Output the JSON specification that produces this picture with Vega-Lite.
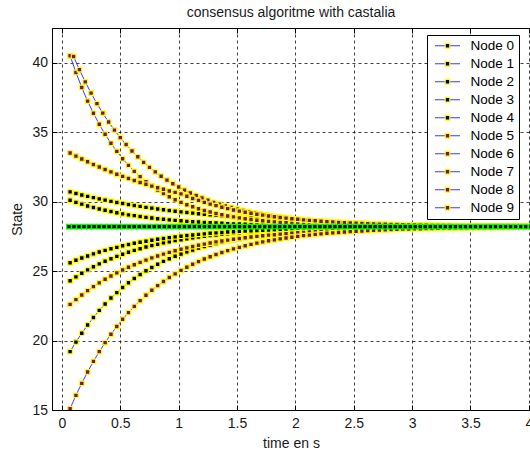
{
"$schema":"https://vega.github.io/schema/vega-lite/v6.json",
"width":478,"height":382,"autosize":"none",
"padding":{"left":52,"top":28,"right":0,"bottom":43},
"background":"white",
"title":{"text":"consensus algoritme with castalia","frame":"group","anchor":"middle","offset":8,"fontSize":14,"font":"Liberation Sans","fontWeight":"normal","color":"#1a1a1a"},
"config":{"view":{"stroke":"#000","strokeWidth":1},
"axis":{"labelFont":"Liberation Sans","labelFontSize":14,"labelColor":"#1a1a1a","titleFont":"Liberation Sans","titleFontSize":14,"titleFontWeight":"normal","titleColor":"#1a1a1a","domainColor":"#000","tickColor":"#000","tickSize":-5,"gridColor":"#000","gridDash":[3,3],"gridOpacity":0.75,"gridWidth":1}},
"datasets":{
"nodes":[
{"n":"Node 0","t":0.07,"y":30.70},{"n":"Node 0","t":0.12,"y":30.59},{"n":"Node 0","t":0.17,"y":30.48},{"n":"Node 0","t":0.22,"y":30.38},{"n":"Node 0","t":0.27,"y":30.29},{"n":"Node 0","t":0.32,"y":30.20},{"n":"Node 0","t":0.37,"y":30.11},{"n":"Node 0","t":0.42,"y":30.02},{"n":"Node 0","t":0.47,"y":29.94},{"n":"Node 0","t":0.52,"y":29.87},
{"n":"Node 0","t":0.57,"y":29.79},{"n":"Node 0","t":0.62,"y":29.72},{"n":"Node 0","t":0.67,"y":29.66},{"n":"Node 0","t":0.72,"y":29.59},{"n":"Node 0","t":0.77,"y":29.53},{"n":"Node 0","t":0.82,"y":29.47},{"n":"Node 0","t":0.87,"y":29.42},{"n":"Node 0","t":0.92,"y":29.36},{"n":"Node 0","t":0.97,"y":29.31},{"n":"Node 0","t":1.02,"y":29.26},
{"n":"Node 0","t":1.07,"y":29.22},{"n":"Node 0","t":1.12,"y":29.17},{"n":"Node 0","t":1.17,"y":29.13},{"n":"Node 0","t":1.22,"y":29.09},{"n":"Node 0","t":1.27,"y":29.05},{"n":"Node 0","t":1.32,"y":29.01},{"n":"Node 0","t":1.37,"y":28.98},{"n":"Node 0","t":1.42,"y":28.94},{"n":"Node 0","t":1.47,"y":28.91},{"n":"Node 0","t":1.52,"y":28.88},
{"n":"Node 0","t":1.57,"y":28.85},{"n":"Node 0","t":1.62,"y":28.82},{"n":"Node 0","t":1.67,"y":28.79},{"n":"Node 0","t":1.72,"y":28.77},{"n":"Node 0","t":1.77,"y":28.74},{"n":"Node 0","t":1.82,"y":28.72},{"n":"Node 0","t":1.87,"y":28.69},{"n":"Node 0","t":1.92,"y":28.67},{"n":"Node 0","t":1.97,"y":28.65},{"n":"Node 0","t":2.02,"y":28.62},
{"n":"Node 0","t":2.07,"y":28.59},{"n":"Node 0","t":2.12,"y":28.56},{"n":"Node 0","t":2.17,"y":28.53},{"n":"Node 0","t":2.22,"y":28.51},{"n":"Node 0","t":2.27,"y":28.49},{"n":"Node 0","t":2.32,"y":28.47},{"n":"Node 0","t":2.37,"y":28.45},{"n":"Node 0","t":2.42,"y":28.43},{"n":"Node 0","t":2.47,"y":28.41},{"n":"Node 0","t":2.52,"y":28.40},
{"n":"Node 0","t":2.57,"y":28.38},{"n":"Node 0","t":2.62,"y":28.37},{"n":"Node 0","t":2.67,"y":28.36},{"n":"Node 0","t":2.72,"y":28.35},{"n":"Node 0","t":2.77,"y":28.34},{"n":"Node 0","t":2.82,"y":28.33},{"n":"Node 0","t":2.87,"y":28.32},{"n":"Node 0","t":2.92,"y":28.31},{"n":"Node 0","t":2.97,"y":28.30},{"n":"Node 0","t":3.02,"y":28.29},
{"n":"Node 0","t":3.07,"y":28.29},{"n":"Node 0","t":3.12,"y":28.28},{"n":"Node 0","t":3.17,"y":28.28},{"n":"Node 0","t":3.22,"y":28.27},{"n":"Node 0","t":3.27,"y":28.26},{"n":"Node 0","t":3.32,"y":28.26},{"n":"Node 0","t":3.37,"y":28.26},{"n":"Node 0","t":3.42,"y":28.25},{"n":"Node 0","t":3.47,"y":28.25},{"n":"Node 0","t":3.52,"y":28.24},
{"n":"Node 0","t":3.57,"y":28.24},{"n":"Node 0","t":3.62,"y":28.24},{"n":"Node 0","t":3.67,"y":28.24},{"n":"Node 0","t":3.72,"y":28.23},{"n":"Node 0","t":3.77,"y":28.23},{"n":"Node 0","t":3.82,"y":28.23},{"n":"Node 0","t":3.87,"y":28.23},{"n":"Node 0","t":3.92,"y":28.22},{"n":"Node 0","t":3.97,"y":28.22},
{"n":"Node 1","t":0.07,"y":30.10},{"n":"Node 1","t":0.12,"y":29.95},{"n":"Node 1","t":0.17,"y":29.82},{"n":"Node 1","t":0.22,"y":29.69},{"n":"Node 1","t":0.27,"y":29.58},{"n":"Node 1","t":0.32,"y":29.47},{"n":"Node 1","t":0.37,"y":29.38},{"n":"Node 1","t":0.42,"y":29.29},{"n":"Node 1","t":0.47,"y":29.20},{"n":"Node 1","t":0.52,"y":29.12},
{"n":"Node 1","t":0.57,"y":29.05},{"n":"Node 1","t":0.62,"y":28.99},{"n":"Node 1","t":0.67,"y":28.93},{"n":"Node 1","t":0.72,"y":28.87},{"n":"Node 1","t":0.77,"y":28.82},{"n":"Node 1","t":0.82,"y":28.77},{"n":"Node 1","t":0.87,"y":28.73},{"n":"Node 1","t":0.92,"y":28.69},{"n":"Node 1","t":0.97,"y":28.65},{"n":"Node 1","t":1.02,"y":28.62},
{"n":"Node 1","t":1.07,"y":28.58},{"n":"Node 1","t":1.12,"y":28.55},{"n":"Node 1","t":1.17,"y":28.53},{"n":"Node 1","t":1.22,"y":28.50},{"n":"Node 1","t":1.27,"y":28.48},{"n":"Node 1","t":1.32,"y":28.46},{"n":"Node 1","t":1.37,"y":28.44},{"n":"Node 1","t":1.42,"y":28.42},{"n":"Node 1","t":1.47,"y":28.40},{"n":"Node 1","t":1.52,"y":28.39},
{"n":"Node 1","t":1.57,"y":28.37},{"n":"Node 1","t":1.62,"y":28.36},{"n":"Node 1","t":1.67,"y":28.35},{"n":"Node 1","t":1.72,"y":28.34},{"n":"Node 1","t":1.77,"y":28.33},{"n":"Node 1","t":1.82,"y":28.32},{"n":"Node 1","t":1.87,"y":28.31},{"n":"Node 1","t":1.92,"y":28.30},{"n":"Node 1","t":1.97,"y":28.29},{"n":"Node 1","t":2.02,"y":28.28},
{"n":"Node 1","t":2.07,"y":28.28},{"n":"Node 1","t":2.12,"y":28.27},{"n":"Node 1","t":2.17,"y":28.27},{"n":"Node 1","t":2.22,"y":28.26},{"n":"Node 1","t":2.27,"y":28.26},{"n":"Node 1","t":2.32,"y":28.25},{"n":"Node 1","t":2.37,"y":28.25},{"n":"Node 1","t":2.42,"y":28.24},{"n":"Node 1","t":2.47,"y":28.24},{"n":"Node 1","t":2.52,"y":28.24},
{"n":"Node 1","t":2.57,"y":28.23},{"n":"Node 1","t":2.62,"y":28.23},{"n":"Node 1","t":2.67,"y":28.23},{"n":"Node 1","t":2.72,"y":28.23},{"n":"Node 1","t":2.77,"y":28.22},{"n":"Node 1","t":2.82,"y":28.22},{"n":"Node 1","t":2.87,"y":28.22},{"n":"Node 1","t":2.92,"y":28.22},{"n":"Node 1","t":2.97,"y":28.22},{"n":"Node 1","t":3.02,"y":28.22},
{"n":"Node 1","t":3.07,"y":28.22},{"n":"Node 1","t":3.12,"y":28.22},{"n":"Node 1","t":3.17,"y":28.22},{"n":"Node 1","t":3.22,"y":28.21},{"n":"Node 1","t":3.27,"y":28.21},{"n":"Node 1","t":3.32,"y":28.21},{"n":"Node 1","t":3.37,"y":28.21},{"n":"Node 1","t":3.42,"y":28.21},{"n":"Node 1","t":3.47,"y":28.21},{"n":"Node 1","t":3.52,"y":28.21},
{"n":"Node 1","t":3.57,"y":28.21},{"n":"Node 1","t":3.62,"y":28.21},{"n":"Node 1","t":3.67,"y":28.21},{"n":"Node 1","t":3.72,"y":28.21},{"n":"Node 1","t":3.77,"y":28.21},{"n":"Node 1","t":3.82,"y":28.21},{"n":"Node 1","t":3.87,"y":28.21},{"n":"Node 1","t":3.92,"y":28.21},{"n":"Node 1","t":3.97,"y":28.21},
{"n":"Node 2","t":0.07,"y":24.30},{"n":"Node 2","t":0.12,"y":24.58},{"n":"Node 2","t":0.17,"y":24.84},{"n":"Node 2","t":0.22,"y":25.09},{"n":"Node 2","t":0.27,"y":25.31},{"n":"Node 2","t":0.32,"y":25.52},{"n":"Node 2","t":0.37,"y":25.71},{"n":"Node 2","t":0.42,"y":25.89},{"n":"Node 2","t":0.47,"y":26.06},{"n":"Node 2","t":0.52,"y":26.21},
{"n":"Node 2","t":0.57,"y":26.36},{"n":"Node 2","t":0.62,"y":26.49},{"n":"Node 2","t":0.67,"y":26.61},{"n":"Node 2","t":0.72,"y":26.73},{"n":"Node 2","t":0.77,"y":26.84},{"n":"Node 2","t":0.82,"y":26.93},{"n":"Node 2","t":0.87,"y":27.03},{"n":"Node 2","t":0.92,"y":27.11},{"n":"Node 2","t":0.97,"y":27.19},{"n":"Node 2","t":1.02,"y":27.26},
{"n":"Node 2","t":1.07,"y":27.33},{"n":"Node 2","t":1.12,"y":27.39},{"n":"Node 2","t":1.17,"y":27.45},{"n":"Node 2","t":1.22,"y":27.51},{"n":"Node 2","t":1.27,"y":27.56},{"n":"Node 2","t":1.32,"y":27.60},{"n":"Node 2","t":1.37,"y":27.65},{"n":"Node 2","t":1.42,"y":27.69},{"n":"Node 2","t":1.47,"y":27.72},{"n":"Node 2","t":1.52,"y":27.76},
{"n":"Node 2","t":1.57,"y":27.79},{"n":"Node 2","t":1.62,"y":27.82},{"n":"Node 2","t":1.67,"y":27.85},{"n":"Node 2","t":1.72,"y":27.87},{"n":"Node 2","t":1.77,"y":27.90},{"n":"Node 2","t":1.82,"y":27.92},{"n":"Node 2","t":1.87,"y":27.94},{"n":"Node 2","t":1.92,"y":27.96},{"n":"Node 2","t":1.97,"y":27.97},{"n":"Node 2","t":2.02,"y":27.99},
{"n":"Node 2","t":2.07,"y":28.01},{"n":"Node 2","t":2.12,"y":28.02},{"n":"Node 2","t":2.17,"y":28.03},{"n":"Node 2","t":2.22,"y":28.04},{"n":"Node 2","t":2.27,"y":28.06},{"n":"Node 2","t":2.32,"y":28.07},{"n":"Node 2","t":2.37,"y":28.08},{"n":"Node 2","t":2.42,"y":28.09},{"n":"Node 2","t":2.47,"y":28.09},{"n":"Node 2","t":2.52,"y":28.10},
{"n":"Node 2","t":2.57,"y":28.11},{"n":"Node 2","t":2.62,"y":28.11},{"n":"Node 2","t":2.67,"y":28.12},{"n":"Node 2","t":2.72,"y":28.13},{"n":"Node 2","t":2.77,"y":28.13},{"n":"Node 2","t":2.82,"y":28.14},{"n":"Node 2","t":2.87,"y":28.14},{"n":"Node 2","t":2.92,"y":28.15},{"n":"Node 2","t":2.97,"y":28.15},{"n":"Node 2","t":3.02,"y":28.15},
{"n":"Node 2","t":3.07,"y":28.16},{"n":"Node 2","t":3.12,"y":28.16},{"n":"Node 2","t":3.17,"y":28.16},{"n":"Node 2","t":3.22,"y":28.17},{"n":"Node 2","t":3.27,"y":28.17},{"n":"Node 2","t":3.32,"y":28.17},{"n":"Node 2","t":3.37,"y":28.17},{"n":"Node 2","t":3.42,"y":28.17},{"n":"Node 2","t":3.47,"y":28.18},{"n":"Node 2","t":3.52,"y":28.18},
{"n":"Node 2","t":3.57,"y":28.18},{"n":"Node 2","t":3.62,"y":28.18},{"n":"Node 2","t":3.67,"y":28.18},{"n":"Node 2","t":3.72,"y":28.18},{"n":"Node 2","t":3.77,"y":28.18},{"n":"Node 2","t":3.82,"y":28.19},{"n":"Node 2","t":3.87,"y":28.19},{"n":"Node 2","t":3.92,"y":28.19},{"n":"Node 2","t":3.97,"y":28.19},
{"n":"Node 3","t":0.07,"y":19.20},{"n":"Node 3","t":0.12,"y":19.89},{"n":"Node 3","t":0.17,"y":20.53},{"n":"Node 3","t":0.22,"y":21.12},{"n":"Node 3","t":0.27,"y":21.66},{"n":"Node 3","t":0.32,"y":22.17},{"n":"Node 3","t":0.37,"y":22.63},{"n":"Node 3","t":0.42,"y":23.06},{"n":"Node 3","t":0.47,"y":23.45},{"n":"Node 3","t":0.52,"y":23.82},
{"n":"Node 3","t":0.57,"y":24.16},{"n":"Node 3","t":0.62,"y":24.47},{"n":"Node 3","t":0.67,"y":24.75},{"n":"Node 3","t":0.72,"y":25.02},{"n":"Node 3","t":0.77,"y":25.26},{"n":"Node 3","t":0.82,"y":25.49},{"n":"Node 3","t":0.87,"y":25.70},{"n":"Node 3","t":0.92,"y":25.89},{"n":"Node 3","t":0.97,"y":26.07},{"n":"Node 3","t":1.02,"y":26.23},
{"n":"Node 3","t":1.07,"y":26.38},{"n":"Node 3","t":1.12,"y":26.52},{"n":"Node 3","t":1.17,"y":26.65},{"n":"Node 3","t":1.22,"y":26.77},{"n":"Node 3","t":1.27,"y":26.88},{"n":"Node 3","t":1.32,"y":26.98},{"n":"Node 3","t":1.37,"y":27.08},{"n":"Node 3","t":1.42,"y":27.16},{"n":"Node 3","t":1.47,"y":27.24},{"n":"Node 3","t":1.52,"y":27.32},
{"n":"Node 3","t":1.57,"y":27.38},{"n":"Node 3","t":1.62,"y":27.45},{"n":"Node 3","t":1.67,"y":27.50},{"n":"Node 3","t":1.72,"y":27.56},{"n":"Node 3","t":1.77,"y":27.61},{"n":"Node 3","t":1.82,"y":27.65},{"n":"Node 3","t":1.87,"y":27.69},{"n":"Node 3","t":1.92,"y":27.73},{"n":"Node 3","t":1.97,"y":27.77},{"n":"Node 3","t":2.02,"y":27.80},
{"n":"Node 3","t":2.07,"y":27.83},{"n":"Node 3","t":2.12,"y":27.86},{"n":"Node 3","t":2.17,"y":27.89},{"n":"Node 3","t":2.22,"y":27.91},{"n":"Node 3","t":2.27,"y":27.93},{"n":"Node 3","t":2.32,"y":27.95},{"n":"Node 3","t":2.37,"y":27.97},{"n":"Node 3","t":2.42,"y":27.99},{"n":"Node 3","t":2.47,"y":28.01},{"n":"Node 3","t":2.52,"y":28.02},
{"n":"Node 3","t":2.57,"y":28.04},{"n":"Node 3","t":2.62,"y":28.05},{"n":"Node 3","t":2.67,"y":28.06},{"n":"Node 3","t":2.72,"y":28.07},{"n":"Node 3","t":2.77,"y":28.08},{"n":"Node 3","t":2.82,"y":28.09},{"n":"Node 3","t":2.87,"y":28.10},{"n":"Node 3","t":2.92,"y":28.11},{"n":"Node 3","t":2.97,"y":28.11},{"n":"Node 3","t":3.02,"y":28.12},
{"n":"Node 3","t":3.07,"y":28.13},{"n":"Node 3","t":3.12,"y":28.13},{"n":"Node 3","t":3.17,"y":28.14},{"n":"Node 3","t":3.22,"y":28.14},{"n":"Node 3","t":3.27,"y":28.15},{"n":"Node 3","t":3.32,"y":28.15},{"n":"Node 3","t":3.37,"y":28.15},{"n":"Node 3","t":3.42,"y":28.16},{"n":"Node 3","t":3.47,"y":28.16},{"n":"Node 3","t":3.52,"y":28.16},
{"n":"Node 3","t":3.57,"y":28.17},{"n":"Node 3","t":3.62,"y":28.17},{"n":"Node 3","t":3.67,"y":28.17},{"n":"Node 3","t":3.72,"y":28.17},{"n":"Node 3","t":3.77,"y":28.18},{"n":"Node 3","t":3.82,"y":28.18},{"n":"Node 3","t":3.87,"y":28.18},{"n":"Node 3","t":3.92,"y":28.18},{"n":"Node 3","t":3.97,"y":28.18},
{"n":"Node 4","t":0.07,"y":25.60},{"n":"Node 4","t":0.12,"y":25.78},{"n":"Node 4","t":0.17,"y":25.94},{"n":"Node 4","t":0.22,"y":26.09},{"n":"Node 4","t":0.27,"y":26.24},{"n":"Node 4","t":0.32,"y":26.37},{"n":"Node 4","t":0.37,"y":26.49},{"n":"Node 4","t":0.42,"y":26.61},{"n":"Node 4","t":0.47,"y":26.71},{"n":"Node 4","t":0.52,"y":26.82},
{"n":"Node 4","t":0.57,"y":26.91},{"n":"Node 4","t":0.62,"y":27.00},{"n":"Node 4","t":0.67,"y":27.08},{"n":"Node 4","t":0.72,"y":27.15},{"n":"Node 4","t":0.77,"y":27.22},{"n":"Node 4","t":0.82,"y":27.29},{"n":"Node 4","t":0.87,"y":27.35},{"n":"Node 4","t":0.92,"y":27.41},{"n":"Node 4","t":0.97,"y":27.46},{"n":"Node 4","t":1.02,"y":27.51},
{"n":"Node 4","t":1.07,"y":27.56},{"n":"Node 4","t":1.12,"y":27.60},{"n":"Node 4","t":1.17,"y":27.64},{"n":"Node 4","t":1.22,"y":27.68},{"n":"Node 4","t":1.27,"y":27.72},{"n":"Node 4","t":1.32,"y":27.75},{"n":"Node 4","t":1.37,"y":27.78},{"n":"Node 4","t":1.42,"y":27.81},{"n":"Node 4","t":1.47,"y":27.83},{"n":"Node 4","t":1.52,"y":27.86},
{"n":"Node 4","t":1.57,"y":27.88},{"n":"Node 4","t":1.62,"y":27.90},{"n":"Node 4","t":1.67,"y":27.92},{"n":"Node 4","t":1.72,"y":27.94},{"n":"Node 4","t":1.77,"y":27.96},{"n":"Node 4","t":1.82,"y":27.98},{"n":"Node 4","t":1.87,"y":27.99},{"n":"Node 4","t":1.92,"y":28.00},{"n":"Node 4","t":1.97,"y":28.02},{"n":"Node 4","t":2.02,"y":28.03},
{"n":"Node 4","t":2.07,"y":28.04},{"n":"Node 4","t":2.12,"y":28.05},{"n":"Node 4","t":2.17,"y":28.06},{"n":"Node 4","t":2.22,"y":28.07},{"n":"Node 4","t":2.27,"y":28.08},{"n":"Node 4","t":2.32,"y":28.09},{"n":"Node 4","t":2.37,"y":28.10},{"n":"Node 4","t":2.42,"y":28.10},{"n":"Node 4","t":2.47,"y":28.11},{"n":"Node 4","t":2.52,"y":28.12},
{"n":"Node 4","t":2.57,"y":28.12},{"n":"Node 4","t":2.62,"y":28.13},{"n":"Node 4","t":2.67,"y":28.13},{"n":"Node 4","t":2.72,"y":28.14},{"n":"Node 4","t":2.77,"y":28.14},{"n":"Node 4","t":2.82,"y":28.14},{"n":"Node 4","t":2.87,"y":28.15},{"n":"Node 4","t":2.92,"y":28.15},{"n":"Node 4","t":2.97,"y":28.16},{"n":"Node 4","t":3.02,"y":28.16},
{"n":"Node 4","t":3.07,"y":28.16},{"n":"Node 4","t":3.12,"y":28.16},{"n":"Node 4","t":3.17,"y":28.17},{"n":"Node 4","t":3.22,"y":28.17},{"n":"Node 4","t":3.27,"y":28.17},{"n":"Node 4","t":3.32,"y":28.17},{"n":"Node 4","t":3.37,"y":28.17},{"n":"Node 4","t":3.42,"y":28.18},{"n":"Node 4","t":3.47,"y":28.18},{"n":"Node 4","t":3.52,"y":28.18},
{"n":"Node 4","t":3.57,"y":28.18},{"n":"Node 4","t":3.62,"y":28.18},{"n":"Node 4","t":3.67,"y":28.18},{"n":"Node 4","t":3.72,"y":28.19},{"n":"Node 4","t":3.77,"y":28.19},{"n":"Node 4","t":3.82,"y":28.19},{"n":"Node 4","t":3.87,"y":28.19},{"n":"Node 4","t":3.92,"y":28.19},{"n":"Node 4","t":3.97,"y":28.19},
{"n":"Node 5","t":0.07,"y":40.50},{"n":"Node 5","t":0.12,"y":39.30},{"n":"Node 5","t":0.17,"y":38.22},{"n":"Node 5","t":0.22,"y":37.24},{"n":"Node 5","t":0.27,"y":36.36},{"n":"Node 5","t":0.32,"y":35.57},{"n":"Node 5","t":0.37,"y":34.85},{"n":"Node 5","t":0.42,"y":34.20},{"n":"Node 5","t":0.47,"y":33.62},{"n":"Node 5","t":0.52,"y":33.09},
{"n":"Node 5","t":0.57,"y":32.61},{"n":"Node 5","t":0.62,"y":32.18},{"n":"Node 5","t":0.67,"y":31.80},{"n":"Node 5","t":0.72,"y":31.44},{"n":"Node 5","t":0.77,"y":31.13},{"n":"Node 5","t":0.82,"y":30.84},{"n":"Node 5","t":0.87,"y":30.59},{"n":"Node 5","t":0.92,"y":30.35},{"n":"Node 5","t":0.97,"y":30.14},{"n":"Node 5","t":1.02,"y":29.95},
{"n":"Node 5","t":1.07,"y":29.78},{"n":"Node 5","t":1.12,"y":29.63},{"n":"Node 5","t":1.17,"y":29.49},{"n":"Node 5","t":1.22,"y":29.36},{"n":"Node 5","t":1.27,"y":29.25},{"n":"Node 5","t":1.32,"y":29.15},{"n":"Node 5","t":1.37,"y":29.06},{"n":"Node 5","t":1.42,"y":28.97},{"n":"Node 5","t":1.47,"y":28.90},{"n":"Node 5","t":1.52,"y":28.83},
{"n":"Node 5","t":1.57,"y":28.77},{"n":"Node 5","t":1.62,"y":28.71},{"n":"Node 5","t":1.67,"y":28.66},{"n":"Node 5","t":1.72,"y":28.62},{"n":"Node 5","t":1.77,"y":28.58},{"n":"Node 5","t":1.82,"y":28.54},{"n":"Node 5","t":1.87,"y":28.51},{"n":"Node 5","t":1.92,"y":28.48},{"n":"Node 5","t":1.97,"y":28.45},{"n":"Node 5","t":2.02,"y":28.43},
{"n":"Node 5","t":2.07,"y":28.40},{"n":"Node 5","t":2.12,"y":28.38},{"n":"Node 5","t":2.17,"y":28.37},{"n":"Node 5","t":2.22,"y":28.35},{"n":"Node 5","t":2.27,"y":28.34},{"n":"Node 5","t":2.32,"y":28.32},{"n":"Node 5","t":2.37,"y":28.31},{"n":"Node 5","t":2.42,"y":28.30},{"n":"Node 5","t":2.47,"y":28.29},{"n":"Node 5","t":2.52,"y":28.28},
{"n":"Node 5","t":2.57,"y":28.27},{"n":"Node 5","t":2.62,"y":28.27},{"n":"Node 5","t":2.67,"y":28.26},{"n":"Node 5","t":2.72,"y":28.25},{"n":"Node 5","t":2.77,"y":28.25},{"n":"Node 5","t":2.82,"y":28.24},{"n":"Node 5","t":2.87,"y":28.24},{"n":"Node 5","t":2.92,"y":28.24},{"n":"Node 5","t":2.97,"y":28.23},{"n":"Node 5","t":3.02,"y":28.23},
{"n":"Node 5","t":3.07,"y":28.23},{"n":"Node 5","t":3.12,"y":28.22},{"n":"Node 5","t":3.17,"y":28.22},{"n":"Node 5","t":3.22,"y":28.22},{"n":"Node 5","t":3.27,"y":28.22},{"n":"Node 5","t":3.32,"y":28.22},{"n":"Node 5","t":3.37,"y":28.22},{"n":"Node 5","t":3.42,"y":28.21},{"n":"Node 5","t":3.47,"y":28.21},{"n":"Node 5","t":3.52,"y":28.21},
{"n":"Node 5","t":3.57,"y":28.21},{"n":"Node 5","t":3.62,"y":28.21},{"n":"Node 5","t":3.67,"y":28.21},{"n":"Node 5","t":3.72,"y":28.21},{"n":"Node 5","t":3.77,"y":28.21},{"n":"Node 5","t":3.82,"y":28.21},{"n":"Node 5","t":3.87,"y":28.21},{"n":"Node 5","t":3.92,"y":28.21},{"n":"Node 5","t":3.97,"y":28.21},
{"n":"Node 6","t":0.10,"y":40.45},{"n":"Node 6","t":0.15,"y":39.50},{"n":"Node 6","t":0.20,"y":38.62},{"n":"Node 6","t":0.25,"y":37.81},{"n":"Node 6","t":0.30,"y":37.06},{"n":"Node 6","t":0.35,"y":36.37},{"n":"Node 6","t":0.40,"y":35.73},{"n":"Node 6","t":0.45,"y":35.15},{"n":"Node 6","t":0.50,"y":34.61},{"n":"Node 6","t":0.55,"y":34.11},
{"n":"Node 6","t":0.60,"y":33.65},{"n":"Node 6","t":0.65,"y":33.23},{"n":"Node 6","t":0.70,"y":32.83},{"n":"Node 6","t":0.75,"y":32.47},{"n":"Node 6","t":0.80,"y":32.14},{"n":"Node 6","t":0.85,"y":31.83},{"n":"Node 6","t":0.90,"y":31.55},{"n":"Node 6","t":0.95,"y":31.29},{"n":"Node 6","t":1.00,"y":31.05},{"n":"Node 6","t":1.05,"y":30.83},
{"n":"Node 6","t":1.10,"y":30.62},{"n":"Node 6","t":1.15,"y":30.44},{"n":"Node 6","t":1.20,"y":30.26},{"n":"Node 6","t":1.25,"y":30.10},{"n":"Node 6","t":1.30,"y":29.95},{"n":"Node 6","t":1.35,"y":29.82},{"n":"Node 6","t":1.40,"y":29.69},{"n":"Node 6","t":1.45,"y":29.58},{"n":"Node 6","t":1.50,"y":29.47},{"n":"Node 6","t":1.55,"y":29.37},
{"n":"Node 6","t":1.60,"y":29.28},{"n":"Node 6","t":1.65,"y":29.19},{"n":"Node 6","t":1.70,"y":29.12},{"n":"Node 6","t":1.75,"y":29.05},{"n":"Node 6","t":1.80,"y":28.98},{"n":"Node 6","t":1.85,"y":28.92},{"n":"Node 6","t":1.90,"y":28.86},{"n":"Node 6","t":1.95,"y":28.81},{"n":"Node 6","t":2.00,"y":28.76},{"n":"Node 6","t":2.05,"y":28.72},
{"n":"Node 6","t":2.10,"y":28.68},{"n":"Node 6","t":2.15,"y":28.64},{"n":"Node 6","t":2.20,"y":28.61},{"n":"Node 6","t":2.25,"y":28.58},{"n":"Node 6","t":2.30,"y":28.55},{"n":"Node 6","t":2.35,"y":28.52},{"n":"Node 6","t":2.40,"y":28.50},{"n":"Node 6","t":2.45,"y":28.47},{"n":"Node 6","t":2.50,"y":28.45},{"n":"Node 6","t":2.55,"y":28.43},
{"n":"Node 6","t":2.60,"y":28.41},{"n":"Node 6","t":2.65,"y":28.40},{"n":"Node 6","t":2.70,"y":28.38},{"n":"Node 6","t":2.75,"y":28.37},{"n":"Node 6","t":2.80,"y":28.35},{"n":"Node 6","t":2.85,"y":28.34},{"n":"Node 6","t":2.90,"y":28.33},{"n":"Node 6","t":2.95,"y":28.32},{"n":"Node 6","t":3.00,"y":28.31},{"n":"Node 6","t":3.05,"y":28.30},
{"n":"Node 6","t":3.10,"y":28.29},{"n":"Node 6","t":3.15,"y":28.29},{"n":"Node 6","t":3.20,"y":28.28},{"n":"Node 6","t":3.25,"y":28.27},{"n":"Node 6","t":3.30,"y":28.27},{"n":"Node 6","t":3.35,"y":28.26},{"n":"Node 6","t":3.40,"y":28.26},{"n":"Node 6","t":3.45,"y":28.25},{"n":"Node 6","t":3.50,"y":28.25},{"n":"Node 6","t":3.55,"y":28.25},
{"n":"Node 6","t":3.60,"y":28.24},{"n":"Node 6","t":3.65,"y":28.24},{"n":"Node 6","t":3.70,"y":28.24},{"n":"Node 6","t":3.75,"y":28.23},{"n":"Node 6","t":3.80,"y":28.23},{"n":"Node 6","t":3.85,"y":28.23},{"n":"Node 6","t":3.90,"y":28.23},{"n":"Node 6","t":3.95,"y":28.22},{"n":"Node 6","t":4.00,"y":28.22},
{"n":"Node 7","t":0.07,"y":33.50},{"n":"Node 7","t":0.12,"y":33.28},{"n":"Node 7","t":0.17,"y":33.07},{"n":"Node 7","t":0.22,"y":32.87},{"n":"Node 7","t":0.27,"y":32.67},{"n":"Node 7","t":0.32,"y":32.49},{"n":"Node 7","t":0.37,"y":32.31},{"n":"Node 7","t":0.42,"y":32.14},{"n":"Node 7","t":0.47,"y":31.97},{"n":"Node 7","t":0.52,"y":31.82},
{"n":"Node 7","t":0.57,"y":31.67},{"n":"Node 7","t":0.62,"y":31.52},{"n":"Node 7","t":0.67,"y":31.38},{"n":"Node 7","t":0.72,"y":31.25},{"n":"Node 7","t":0.77,"y":31.12},{"n":"Node 7","t":0.82,"y":31.00},{"n":"Node 7","t":0.87,"y":30.89},{"n":"Node 7","t":0.92,"y":30.77},{"n":"Node 7","t":0.97,"y":30.67},{"n":"Node 7","t":1.02,"y":30.56},
{"n":"Node 7","t":1.07,"y":30.39},{"n":"Node 7","t":1.12,"y":30.23},{"n":"Node 7","t":1.17,"y":30.09},{"n":"Node 7","t":1.22,"y":29.95},{"n":"Node 7","t":1.27,"y":29.82},{"n":"Node 7","t":1.32,"y":29.71},{"n":"Node 7","t":1.37,"y":29.60},{"n":"Node 7","t":1.42,"y":29.50},{"n":"Node 7","t":1.47,"y":29.40},{"n":"Node 7","t":1.52,"y":29.32},
{"n":"Node 7","t":1.57,"y":29.24},{"n":"Node 7","t":1.62,"y":29.16},{"n":"Node 7","t":1.67,"y":29.09},{"n":"Node 7","t":1.72,"y":29.03},{"n":"Node 7","t":1.77,"y":28.97},{"n":"Node 7","t":1.82,"y":28.91},{"n":"Node 7","t":1.87,"y":28.86},{"n":"Node 7","t":1.92,"y":28.81},{"n":"Node 7","t":1.97,"y":28.77},{"n":"Node 7","t":2.02,"y":28.73},
{"n":"Node 7","t":2.07,"y":28.69},{"n":"Node 7","t":2.12,"y":28.65},{"n":"Node 7","t":2.17,"y":28.62},{"n":"Node 7","t":2.22,"y":28.59},{"n":"Node 7","t":2.27,"y":28.56},{"n":"Node 7","t":2.32,"y":28.54},{"n":"Node 7","t":2.37,"y":28.51},{"n":"Node 7","t":2.42,"y":28.49},{"n":"Node 7","t":2.47,"y":28.47},{"n":"Node 7","t":2.52,"y":28.45},
{"n":"Node 7","t":2.57,"y":28.43},{"n":"Node 7","t":2.62,"y":28.41},{"n":"Node 7","t":2.67,"y":28.40},{"n":"Node 7","t":2.72,"y":28.38},{"n":"Node 7","t":2.77,"y":28.37},{"n":"Node 7","t":2.82,"y":28.36},{"n":"Node 7","t":2.87,"y":28.35},{"n":"Node 7","t":2.92,"y":28.34},{"n":"Node 7","t":2.97,"y":28.33},{"n":"Node 7","t":3.02,"y":28.32},
{"n":"Node 7","t":3.07,"y":28.31},{"n":"Node 7","t":3.12,"y":28.30},{"n":"Node 7","t":3.17,"y":28.29},{"n":"Node 7","t":3.22,"y":28.29},{"n":"Node 7","t":3.27,"y":28.28},{"n":"Node 7","t":3.32,"y":28.28},{"n":"Node 7","t":3.37,"y":28.27},{"n":"Node 7","t":3.42,"y":28.26},{"n":"Node 7","t":3.47,"y":28.26},{"n":"Node 7","t":3.52,"y":28.26},
{"n":"Node 7","t":3.57,"y":28.25},{"n":"Node 7","t":3.62,"y":28.25},{"n":"Node 7","t":3.67,"y":28.24},{"n":"Node 7","t":3.72,"y":28.24},{"n":"Node 7","t":3.77,"y":28.24},{"n":"Node 7","t":3.82,"y":28.24},{"n":"Node 7","t":3.87,"y":28.23},{"n":"Node 7","t":3.92,"y":28.23},{"n":"Node 7","t":3.97,"y":28.23},
{"n":"Node 8","t":0.07,"y":22.60},{"n":"Node 8","t":0.12,"y":22.95},{"n":"Node 8","t":0.17,"y":23.28},{"n":"Node 8","t":0.22,"y":23.59},{"n":"Node 8","t":0.27,"y":23.88},{"n":"Node 8","t":0.32,"y":24.15},{"n":"Node 8","t":0.37,"y":24.41},{"n":"Node 8","t":0.42,"y":24.65},{"n":"Node 8","t":0.47,"y":24.87},{"n":"Node 8","t":0.52,"y":25.08},
{"n":"Node 8","t":0.57,"y":25.28},{"n":"Node 8","t":0.62,"y":25.46},{"n":"Node 8","t":0.67,"y":25.63},{"n":"Node 8","t":0.72,"y":25.79},{"n":"Node 8","t":0.77,"y":25.95},{"n":"Node 8","t":0.82,"y":26.09},{"n":"Node 8","t":0.87,"y":26.22},{"n":"Node 8","t":0.92,"y":26.35},{"n":"Node 8","t":0.97,"y":26.46},{"n":"Node 8","t":1.02,"y":26.57},
{"n":"Node 8","t":1.07,"y":26.67},{"n":"Node 8","t":1.12,"y":26.77},{"n":"Node 8","t":1.17,"y":26.86},{"n":"Node 8","t":1.22,"y":26.94},{"n":"Node 8","t":1.27,"y":27.02},{"n":"Node 8","t":1.32,"y":27.10},{"n":"Node 8","t":1.37,"y":27.17},{"n":"Node 8","t":1.42,"y":27.23},{"n":"Node 8","t":1.47,"y":27.29},{"n":"Node 8","t":1.52,"y":27.35},
{"n":"Node 8","t":1.57,"y":27.40},{"n":"Node 8","t":1.62,"y":27.45},{"n":"Node 8","t":1.67,"y":27.50},{"n":"Node 8","t":1.72,"y":27.54},{"n":"Node 8","t":1.77,"y":27.59},{"n":"Node 8","t":1.82,"y":27.62},{"n":"Node 8","t":1.87,"y":27.66},{"n":"Node 8","t":1.92,"y":27.69},{"n":"Node 8","t":1.97,"y":27.73},{"n":"Node 8","t":2.02,"y":27.76},
{"n":"Node 8","t":2.07,"y":27.78},{"n":"Node 8","t":2.12,"y":27.81},{"n":"Node 8","t":2.17,"y":27.83},{"n":"Node 8","t":2.22,"y":27.86},{"n":"Node 8","t":2.27,"y":27.88},{"n":"Node 8","t":2.32,"y":27.90},{"n":"Node 8","t":2.37,"y":27.92},{"n":"Node 8","t":2.42,"y":27.94},{"n":"Node 8","t":2.47,"y":27.95},{"n":"Node 8","t":2.52,"y":27.97},
{"n":"Node 8","t":2.57,"y":27.98},{"n":"Node 8","t":2.62,"y":28.00},{"n":"Node 8","t":2.67,"y":28.01},{"n":"Node 8","t":2.72,"y":28.02},{"n":"Node 8","t":2.77,"y":28.03},{"n":"Node 8","t":2.82,"y":28.04},{"n":"Node 8","t":2.87,"y":28.05},{"n":"Node 8","t":2.92,"y":28.06},{"n":"Node 8","t":2.97,"y":28.07},{"n":"Node 8","t":3.02,"y":28.08},
{"n":"Node 8","t":3.07,"y":28.09},{"n":"Node 8","t":3.12,"y":28.09},{"n":"Node 8","t":3.17,"y":28.10},{"n":"Node 8","t":3.22,"y":28.11},{"n":"Node 8","t":3.27,"y":28.11},{"n":"Node 8","t":3.32,"y":28.12},{"n":"Node 8","t":3.37,"y":28.12},{"n":"Node 8","t":3.42,"y":28.13},{"n":"Node 8","t":3.47,"y":28.13},{"n":"Node 8","t":3.52,"y":28.14},
{"n":"Node 8","t":3.57,"y":28.14},{"n":"Node 8","t":3.62,"y":28.14},{"n":"Node 8","t":3.67,"y":28.15},{"n":"Node 8","t":3.72,"y":28.15},{"n":"Node 8","t":3.77,"y":28.15},{"n":"Node 8","t":3.82,"y":28.16},{"n":"Node 8","t":3.87,"y":28.16},{"n":"Node 8","t":3.92,"y":28.16},{"n":"Node 8","t":3.97,"y":28.16},
{"n":"Node 9","t":0.07,"y":15.10},{"n":"Node 9","t":0.12,"y":16.05},{"n":"Node 9","t":0.17,"y":16.92},{"n":"Node 9","t":0.22,"y":17.74},{"n":"Node 9","t":0.27,"y":18.50},{"n":"Node 9","t":0.32,"y":19.20},{"n":"Node 9","t":0.37,"y":19.85},{"n":"Node 9","t":0.42,"y":20.45},{"n":"Node 9","t":0.47,"y":21.01},{"n":"Node 9","t":0.52,"y":21.53},
{"n":"Node 9","t":0.57,"y":22.01},{"n":"Node 9","t":0.62,"y":22.46},{"n":"Node 9","t":0.67,"y":22.87},{"n":"Node 9","t":0.72,"y":23.26},{"n":"Node 9","t":0.77,"y":23.62},{"n":"Node 9","t":0.82,"y":23.95},{"n":"Node 9","t":0.87,"y":24.25},{"n":"Node 9","t":0.92,"y":24.54},{"n":"Node 9","t":0.97,"y":24.80},{"n":"Node 9","t":1.02,"y":25.05},
{"n":"Node 9","t":1.07,"y":25.28},{"n":"Node 9","t":1.12,"y":25.49},{"n":"Node 9","t":1.17,"y":25.68},{"n":"Node 9","t":1.22,"y":25.87},{"n":"Node 9","t":1.27,"y":26.03},{"n":"Node 9","t":1.32,"y":26.19},{"n":"Node 9","t":1.37,"y":26.34},{"n":"Node 9","t":1.42,"y":26.47},{"n":"Node 9","t":1.47,"y":26.60},{"n":"Node 9","t":1.52,"y":26.71},
{"n":"Node 9","t":1.57,"y":26.82},{"n":"Node 9","t":1.62,"y":26.92},{"n":"Node 9","t":1.67,"y":27.01},{"n":"Node 9","t":1.72,"y":27.10},{"n":"Node 9","t":1.77,"y":27.18},{"n":"Node 9","t":1.82,"y":27.25},{"n":"Node 9","t":1.87,"y":27.32},{"n":"Node 9","t":1.92,"y":27.38},{"n":"Node 9","t":1.97,"y":27.44},{"n":"Node 9","t":2.02,"y":27.50},
{"n":"Node 9","t":2.07,"y":27.55},{"n":"Node 9","t":2.12,"y":27.59},{"n":"Node 9","t":2.17,"y":27.64},{"n":"Node 9","t":2.22,"y":27.68},{"n":"Node 9","t":2.27,"y":27.72},{"n":"Node 9","t":2.32,"y":27.75},{"n":"Node 9","t":2.37,"y":27.78},{"n":"Node 9","t":2.42,"y":27.81},{"n":"Node 9","t":2.47,"y":27.84},{"n":"Node 9","t":2.52,"y":27.87},
{"n":"Node 9","t":2.57,"y":27.89},{"n":"Node 9","t":2.62,"y":27.91},{"n":"Node 9","t":2.67,"y":27.93},{"n":"Node 9","t":2.72,"y":27.95},{"n":"Node 9","t":2.77,"y":27.97},{"n":"Node 9","t":2.82,"y":27.99},{"n":"Node 9","t":2.87,"y":28.00},{"n":"Node 9","t":2.92,"y":28.02},{"n":"Node 9","t":2.97,"y":28.03},{"n":"Node 9","t":3.02,"y":28.04},
{"n":"Node 9","t":3.07,"y":28.05},{"n":"Node 9","t":3.12,"y":28.06},{"n":"Node 9","t":3.17,"y":28.07},{"n":"Node 9","t":3.22,"y":28.08},{"n":"Node 9","t":3.27,"y":28.09},{"n":"Node 9","t":3.32,"y":28.10},{"n":"Node 9","t":3.37,"y":28.11},{"n":"Node 9","t":3.42,"y":28.11},{"n":"Node 9","t":3.47,"y":28.12},{"n":"Node 9","t":3.52,"y":28.13},
{"n":"Node 9","t":3.57,"y":28.13},{"n":"Node 9","t":3.62,"y":28.14},{"n":"Node 9","t":3.67,"y":28.14},{"n":"Node 9","t":3.72,"y":28.15},{"n":"Node 9","t":3.77,"y":28.15},{"n":"Node 9","t":3.82,"y":28.15},{"n":"Node 9","t":3.87,"y":28.16},{"n":"Node 9","t":3.92,"y":28.16},{"n":"Node 9","t":3.97,"y":28.16}
],
"avg":[
{"t":0.06,"y":28.2},{"t":0.103,"y":28.2},{"t":0.146,"y":28.2},{"t":0.189,"y":28.2},{"t":0.232,"y":28.2},{"t":0.275,"y":28.2},{"t":0.318,"y":28.2},{"t":0.361,"y":28.2},{"t":0.404,"y":28.2},{"t":0.447,"y":28.2},
{"t":0.49,"y":28.2},{"t":0.533,"y":28.2},{"t":0.576,"y":28.2},{"t":0.619,"y":28.2},{"t":0.662,"y":28.2},{"t":0.705,"y":28.2},{"t":0.748,"y":28.2},{"t":0.791,"y":28.2},{"t":0.834,"y":28.2},{"t":0.877,"y":28.2},
{"t":0.92,"y":28.2},{"t":0.963,"y":28.2},{"t":1.006,"y":28.2},{"t":1.049,"y":28.2},{"t":1.092,"y":28.2},{"t":1.135,"y":28.2},{"t":1.178,"y":28.2},{"t":1.221,"y":28.2},{"t":1.264,"y":28.2},{"t":1.307,"y":28.2},
{"t":1.35,"y":28.2},{"t":1.393,"y":28.2},{"t":1.436,"y":28.2},{"t":1.479,"y":28.2},{"t":1.522,"y":28.2},{"t":1.565,"y":28.2},{"t":1.608,"y":28.2},{"t":1.651,"y":28.2},{"t":1.694,"y":28.2},{"t":1.737,"y":28.2},
{"t":1.78,"y":28.2},{"t":1.823,"y":28.2},{"t":1.866,"y":28.2},{"t":1.909,"y":28.2},{"t":1.952,"y":28.2},{"t":1.995,"y":28.2},{"t":2.038,"y":28.2},{"t":2.081,"y":28.2},{"t":2.124,"y":28.2},{"t":2.167,"y":28.2},
{"t":2.21,"y":28.2},{"t":2.253,"y":28.2},{"t":2.296,"y":28.2},{"t":2.339,"y":28.2},{"t":2.382,"y":28.2},{"t":2.425,"y":28.2},{"t":2.468,"y":28.2},{"t":2.511,"y":28.2},{"t":2.554,"y":28.2},{"t":2.597,"y":28.2},
{"t":2.64,"y":28.2},{"t":2.683,"y":28.2},{"t":2.726,"y":28.2},{"t":2.769,"y":28.2},{"t":2.812,"y":28.2},{"t":2.855,"y":28.2},{"t":2.898,"y":28.2},{"t":2.941,"y":28.2},{"t":2.984,"y":28.2},{"t":3.027,"y":28.2},
{"t":3.07,"y":28.2},{"t":3.113,"y":28.2},{"t":3.156,"y":28.2},{"t":3.199,"y":28.2},{"t":3.242,"y":28.2},{"t":3.285,"y":28.2},{"t":3.328,"y":28.2},{"t":3.371,"y":28.2},{"t":3.414,"y":28.2},{"t":3.457,"y":28.2},
{"t":3.5,"y":28.2},{"t":3.543,"y":28.2},{"t":3.586,"y":28.2},{"t":3.629,"y":28.2},{"t":3.672,"y":28.2},{"t":3.715,"y":28.2},{"t":3.758,"y":28.2},{"t":3.801,"y":28.2},{"t":3.844,"y":28.2},{"t":3.887,"y":28.2},
{"t":3.93,"y":28.2},{"t":3.973,"y":28.2},{"t":4.016,"y":28.2}
]},
"layer":[
{"data":{"name":"nodes"},
 "mark":{"type":"line","strokeWidth":1,"clip":true},
 "encoding":{
  "x":{"field":"t","type":"quantitative","scale":{"domain":[-0.085,4.01],"nice":false,"zero":false},
   "axis":{"orient":"bottom","values":[0,0.5,1,1.5,2,2.5,3,3.5,4],"labelExpr":"'' + datum.value","grid":true,"title":"time en s","labelPadding":11,"titlePadding":6}},
  "y":{"field":"y","type":"quantitative","scale":{"domain":[15,42.5],"nice":false,"zero":false},
   "axis":{"values":[15,20,25,30,35,40],"grid":true,"title":"State","labelPadding":9.5,"titlePadding":7}},
  "stroke":{"field":"n","type":"nominal",
   "scale":{"domain":["Node 0","Node 1","Node 2","Node 3","Node 4","Node 5","Node 6","Node 7","Node 8","Node 9"],"range":["#3a3aff","#3a3aff","#3a3aff","#3a3aff","#3a3aff","#3a3aff","#3a3aff","#3a3aff","#3a3aff","#3a3aff"]},
   "legend":{"orient":"none","legendX":375,"legendY":7,"title":null,"padding":4,"rowPadding":3,"symbolType":"M-6.25,0H6.25","symbolSize":16,"symbolStrokeWidth":1,"symbolOffset":9.75,"labelOffset":16.3,"labelFontSize":13.5,"labelFont":"Liberation Sans","labelColor":"#000","labelExpr":"datum.label + '\u00a0\u00a0\u00a0\u00a0'","fillColor":"#ffffff","strokeColor":"#000000","zindex":1}}}},
{"data":{"name":"nodes"},
 "mark":{"type":"point","shape":"square","filled":true,"size":21,"stroke":"#ffff00","strokeWidth":1.2,"opacity":1,"clip":true},
 "encoding":{
  "x":{"field":"t","type":"quantitative","axis":null},
  "y":{"field":"y","type":"quantitative"},
  "fill":{"field":"n","type":"nominal",
   "scale":{"range":["#000000","#000000","#000000","#000000","#000000","#6e1470","#6e1470","#6e1470","#6e1470","#6e1470"]},
   "legend":{"orient":"none","legendX":375,"legendY":7,"title":null,"padding":4,"rowPadding":3,"symbolType":"square","symbolSize":21,"symbolStrokeColor":"#ffff00","symbolStrokeWidth":1.2,"symbolOffset":9.75,"labelOffset":16.3,"labelFontSize":13.5,"labelFont":"Liberation Sans","labelOpacity":0,"zindex":2}}}},
{"data":{"name":"avg"},
 "mark":{"type":"point","shape":"square","filled":true,"size":21,"fill":"#000000","stroke":"#00ff00","strokeWidth":1.2,"opacity":1,"clip":true},
 "encoding":{
  "x":{"field":"t","type":"quantitative","axis":{"orient":"top","values":[0,0.5,1,1.5,2,2.5,3,3.5,4],"labels":false,"grid":false,"domain":false,"title":null}},
  "y":{"field":"y","type":"quantitative"}}}
],
"resolve":{"axis":{"x":"independent"}}
}
